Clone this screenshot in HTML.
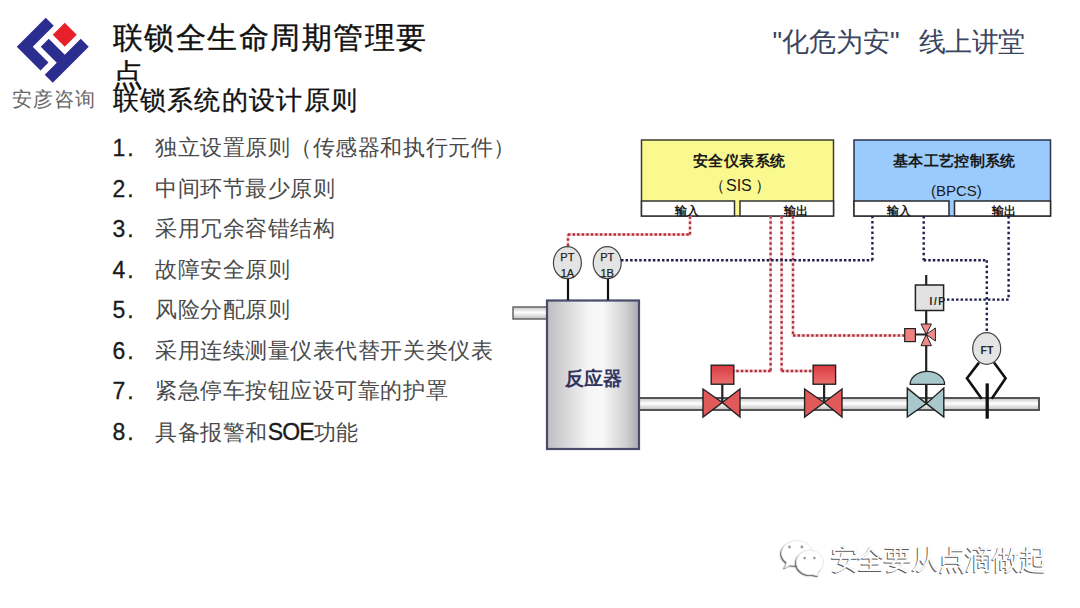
<!DOCTYPE html>
<html><head><meta charset="utf-8">
<style>
html,body{margin:0;padding:0;background:#fff;}
body{width:1080px;height:608px;position:relative;overflow:hidden;font-family:"Liberation Sans",sans-serif;}
.a{position:absolute;white-space:nowrap;}
.t1{font-size:30px;line-height:30px;letter-spacing:1.55px;color:#111;-webkit-text-stroke:0.35px #111;}
.t2{font-size:26px;line-height:26px;letter-spacing:1.3px;color:#111;-webkit-text-stroke:0.3px #111;}
.num{font-size:23px;line-height:23px;letter-spacing:2px;color:#1a1a1a;left:112.5px;-webkit-text-stroke:0.3px #1a1a1a;}
.li{font-size:22px;line-height:22px;letter-spacing:0.55px;color:#4a4a4a;left:155px;}
</style></head><body>
<!-- logo -->
<svg class="a" style="left:0;top:0" width="110" height="90" viewBox="0 0 110 90">
  <polygon fill="#2b2e8f" points="45.75,17.75 53.75,25.75 32.75,46.75 48.5,62.5 40.5,70.5 16.75,46.75"/>
  <polygon fill="#2b2e8f" points="80.75,38.75 88.75,46.75 52.75,82.75 44.75,74.75 56.75,62.75 40.75,46.75 48.75,38.75 64.75,54.75"/>
  <polygon fill="#e8202a" points="64.75,22.75 76.75,34.75 64.75,46.75 52.75,34.75"/>
</svg>
<div class="a" style="left:12px;top:89px;font-family:'Liberation Serif',serif;font-size:20px;line-height:20px;letter-spacing:0.9px;color:#666">安彦咨询</div>

<div class="a t1" style="left:112.5px;top:22.5px">联锁全生命周期管理要</div>
<div class="a t1" style="left:112.5px;top:59.5px">点</div>
<div class="a t2" style="left:112.5px;top:86.5px">联锁系统的设计原则</div>

<div class="a" style="left:772.5px;top:29px;font-size:27px;line-height:27px;color:#3a4560">"化危为安"</div>
<div class="a" style="left:918.5px;top:29px;font-size:27px;line-height:27px;letter-spacing:-0.4px;color:#3a4560">线上讲堂</div>

<!-- list -->
<div class="a num" style="top:137.2px">1.</div><div class="a li" style="top:137.2px">独立设置原则（传感器和执行元件）</div>
<div class="a num" style="top:177.7px">2.</div><div class="a li" style="top:177.7px">中间环节最少原则</div>
<div class="a num" style="top:218.3px">3.</div><div class="a li" style="top:218.3px">采用冗余容错结构</div>
<div class="a num" style="top:258.8px">4.</div><div class="a li" style="top:258.8px">故障安全原则</div>
<div class="a num" style="top:299.3px">5.</div><div class="a li" style="top:299.3px">风险分配原则</div>
<div class="a num" style="top:339.9px">6.</div><div class="a li" style="top:339.9px">采用连续测量仪表代替开关类仪表</div>
<div class="a num" style="top:380.4px">7.</div><div class="a li" style="top:380.4px">紧急停车按钮应设可靠的护罩</div>
<div class="a num" style="top:420.9px">8.</div><div class="a li" style="top:420.9px">具备报警和<span style="letter-spacing:-0.9px;color:#1a1a1a;-webkit-text-stroke:0.35px #1a1a1a;font-size:23px">SOE</span>功能</div>

<!-- diagram -->
<svg class="a" style="left:0;top:0" width="1080" height="608" viewBox="0 0 1080 608">
  <defs>
    <linearGradient id="tank" x1="0" x2="1" y1="0" y2="0">
      <stop offset="0" stop-color="#bdbdc3"/>
      <stop offset="0.2" stop-color="#d6d6d8"/>
      <stop offset="0.45" stop-color="#f5f5f5"/>
      <stop offset="0.6" stop-color="#f8f8f8"/>
      <stop offset="0.86" stop-color="#cfcfd1"/>
      <stop offset="1" stop-color="#a8a8b0"/>
    </linearGradient>
    <linearGradient id="pipe" x1="0" x2="0" y1="0" y2="1">
      <stop offset="0" stop-color="#c4c4c4"/>
      <stop offset="0.45" stop-color="#ffffff"/>
      <stop offset="1" stop-color="#bdbdbd"/>
    </linearGradient>
    <linearGradient id="redbox" x1="0" x2="0" y1="0" y2="1">
      <stop offset="0" stop-color="#d83a40"/>
      <stop offset="1" stop-color="#ec7070"/>
    </linearGradient>
  </defs>
  <!-- boxes -->
  <rect x="641.5" y="140" width="192" height="76" fill="#f9f98f" stroke="#3c3c30" stroke-width="1.5"/>
  <rect x="641.5" y="201" width="93" height="15" fill="#fff" stroke="#333" stroke-width="1.5"/>
  <rect x="740" y="201" width="93.5" height="15" fill="#fff" stroke="#333" stroke-width="1.5"/>
  <rect x="854" y="140" width="196.5" height="76" fill="#9bcbfc" stroke="#28344c" stroke-width="1.5"/>
  <rect x="854" y="201" width="95" height="15" fill="#fff" stroke="#2a2a2a" stroke-width="1.5"/>
  <rect x="954.5" y="201" width="96" height="15" fill="#fff" stroke="#2a2a2a" stroke-width="1.5"/>

  <g font-family="Liberation Sans" font-weight="bold" fill="#1a1a1a">
    <text x="692.5" y="166" font-size="15.3" letter-spacing="0.5">安全仪表系统</text>
    <text x="893" y="166" font-size="15.3" letter-spacing="0.35">基本工艺控制系统</text>
    <text x="674.5" y="215" font-size="11.5">输入</text>
    <text x="784" y="215" font-size="11.5">输出</text>
    <text x="887" y="215" font-size="11.5">输入</text>
    <text x="992" y="215" font-size="11.5">输出</text>
  </g>
  <g font-family="Liberation Sans" fill="#1a1a1a">
    <text x="708.5" y="190.5" font-size="16">（<tspan dx="1.5">SIS</tspan><tspan dx="3">）</tspan></text>
    <text x="931" y="196" font-size="15">(BPCS)</text>
  </g>

  <!-- pipes -->
  <rect x="513" y="307" width="34" height="12" fill="url(#pipe)" stroke="#666" stroke-width="1.5"/>
  <rect x="639" y="398" width="400" height="12" fill="url(#pipe)" stroke="#555" stroke-width="2"/>
  <!-- tank -->
  <rect x="547" y="300.5" width="92" height="148.5" fill="url(#tank)" stroke="#4a4a6a" stroke-width="2.2"/>
  <text x="564.5" y="385" font-family="Liberation Sans" font-weight="bold" font-size="18.7" fill="#30335c">反应器</text>

  <!-- PT instruments -->
  <line x1="568" y1="279" x2="568" y2="300" stroke="#111" stroke-width="2.2"/>
  <line x1="608" y1="279" x2="608" y2="300" stroke="#111" stroke-width="2.2"/>
  <ellipse cx="567.4" cy="262.7" rx="14" ry="16" fill="#e4e4e4" stroke="#444" stroke-width="1.2"/>
  <ellipse cx="607.2" cy="262.7" rx="14" ry="16" fill="#e4e4e4" stroke="#444" stroke-width="1.2"/>
  <g font-family="Liberation Sans" font-size="11" fill="#222" text-anchor="middle" stroke="#222" stroke-width="0.25">
    <text x="567.4" y="261">PT</text><text x="567.4" y="277">1A</text>
    <text x="607.2" y="261">PT</text><text x="607.2" y="277">1B</text>
  </g>

  <!-- dotted lines -->
  <g fill="none" stroke-width="2.8" stroke="#f9d6d6">
    <path d="M568 246 V234.5 H690 V216 M770.6 216 V371 H734 M781.6 216 V371 H813 M793 216 V335.5 H905"/>
  </g>
  <g fill="none" stroke-width="2.4" stroke="#b03040">
    <path stroke-dasharray="2.5 2.75" d="M568 246 V234.5 M690 234.5 V216 M770.6 216 V371 M781.6 216 V371 M793 216 V335.5"/>
    <path stroke-dasharray="2.5 2.05" d="M568 234.5 H690 M770.6 371 H734 M781.6 371 H813 M793 335.5 H905"/>
  </g>
  <g fill="none" stroke-width="2.4" stroke="#1e1e50">
    <path stroke-dasharray="2.5 2.75" d="M872.4 260.3 V216 M923.7 216 V260.3 M986.8 260.3 V332.5 M1008.6 216 V299.6"/>
    <path stroke-dasharray="2.5 2.05" d="M621 260.3 H872.4 M923.7 260.3 H986.8 M1008.6 299.6 H944"/>
  </g>

  <!-- valves 1 & 2 -->
  <g stroke="#222" stroke-width="1.4">
    <line x1="722.3" y1="384" x2="722.3" y2="402.5" stroke-width="2.2"/>
    <polygon points="703,389 722.3,402.5 703,417" fill="#e05a5a"/>
    <polygon points="740,389 722.3,402.5 740,417" fill="#e05a5a"/>
    <rect x="711.2" y="365.2" width="22.6" height="19" fill="url(#redbox)"/>
    <line x1="824.1" y1="384" x2="824.1" y2="402.5" stroke-width="2.2"/>
    <polygon points="804.6,389 824.1,402.5 804.6,417" fill="#e05a5a"/>
    <polygon points="842,389 824.1,402.5 842,417" fill="#e05a5a"/>
    <rect x="813.1" y="365.2" width="22.5" height="19" fill="url(#redbox)"/>
  </g>

  <!-- I/P and control valve -->
  <g stroke="#222">
    <line x1="926.2" y1="275" x2="926.2" y2="403.5" stroke-width="2.2"/>
    <rect x="915.4" y="285" width="28.2" height="25.5" fill="#e2e2e2" stroke-width="1.5"/>
    <line x1="915.4" y1="334.5" x2="926.2" y2="334.5" stroke-width="2"/>
    <rect x="904.7" y="328.6" width="10.7" height="13" fill="#f08080" stroke-width="1.2"/>
    <polygon points="921,324 931.4,324 926.2,334.5" fill="#f08a8a" stroke-width="1"/>
    <polygon points="921,345.7 931.4,345.7 926.2,334.5" fill="#f08a8a" stroke-width="1"/>
    <polygon points="935.4,328 935.4,341 926.2,334.5" fill="#f08a8a" stroke-width="1"/>
    <path d="M910.1 384.4 A17.25 13 0 0 1 944.6 384.4 Z" fill="#a8c8cc" stroke-width="1.2"/>
    <polygon points="907.3,388.1 926.4,403.6 907.3,417" fill="#a8c8cc" stroke-width="1.4"/>
    <polygon points="943.8,388.1 926.4,403.6 943.8,417" fill="#a8c8cc" stroke-width="1.4"/>
    <line x1="926.2" y1="384.4" x2="926.2" y2="403.5" stroke-width="2.2"/>
  </g>
  <text x="929.5" y="305.3" font-family="Liberation Sans" font-weight="bold" font-size="10" fill="#222">I<tspan dx="1.8">/</tspan><tspan dx="1.5">P</tspan></text>

  <!-- FT -->
  <g stroke="#111" stroke-width="2.6" fill="none">
    <polyline points="979,362.6 967,378.3 981.7,398.8"/>
    <polyline points="994,362.6 1005.6,378.3 991.7,398.8"/>
  </g>
  <line x1="987.2" y1="383.4" x2="987.2" y2="418.7" stroke="#111" stroke-width="3.3"/>
  <ellipse cx="986.7" cy="348.5" rx="14" ry="15.8" fill="#e4e4e4" stroke="#444" stroke-width="1.2"/>
  <text x="986.9" y="354" font-family="Liberation Sans" font-size="10.5" font-weight="bold" fill="#2a2a2a" text-anchor="middle">FT</text>
</svg>

<!-- watermark -->
<svg class="a" style="left:770px;top:530px" width="60" height="55" viewBox="770 530 60 55">
  <defs><filter id="wsh" x="-20%" y="-20%" width="140%" height="140%"><feDropShadow dx="-1.2" dy="1.2" stdDeviation="0.6" flood-color="#555" flood-opacity="0.9"/></filter></defs>
  <g fill="#fff" stroke="#e2e2e2" stroke-width="0.8" filter="url(#wsh)">
    <path d="M784.7 567.9 L787 562.5 A15.5 12.5 0 1 1 797 565.5 L790 565 Z"/>
  </g>
  <g fill="#fff" stroke="#e2e2e2" stroke-width="0.8" filter="url(#wsh)">
    <path d="M818.5 575.7 L817.5 572.5 A13.5 12.3 0 1 0 812 574.5 Z"/>
  </g>
  <g fill="#9a9a9a">
    <circle cx="789.4" cy="547" r="1.4"/><circle cx="801.9" cy="547" r="1.4"/>
    <circle cx="804.6" cy="558.1" r="1.3"/><circle cx="814.4" cy="558.1" r="1.3"/>
  </g>
</svg>
<div class="a" style="left:830.5px;top:545.5px;font-size:28px;line-height:28px;letter-spacing:-1.1px;color:#fff;text-shadow:-1px 1px 0.5px #5a5a5a, 0 0 0.6px #cfcfcf">安全要从点滴做起</div>
</body></html>
